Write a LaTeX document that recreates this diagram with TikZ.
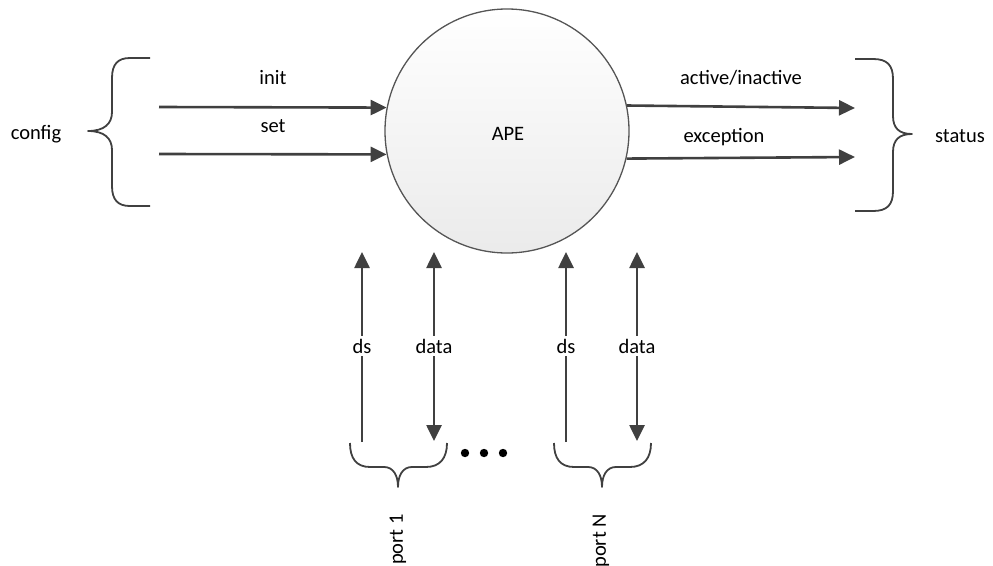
\documentclass[tikz,border=0pt]{standalone}
\usepackage{fontspec}
\setmainfont{Carlito}
\usetikzlibrary{arrows.meta}
\definecolor{linec}{HTML}{404040}
\definecolor{circc}{HTML}{555555}
\begin{document}
\begin{tikzpicture}[x=1pt,y=-1pt,
  every node/.style={font=\fontsize{20.5}{24}\selectfont, inner sep=1pt},
  lbl/.style={anchor=base},
  arr/.style={draw=linec, line width=2.6pt, -{Triangle[length=16pt,width=15pt]}},
  darr/.style={draw=linec, line width=2.6pt, {Triangle[length=16pt,width=15pt]}-{Triangle[length=16pt,width=15pt]}},
  bracec/.style={draw=linec, line width=1.8pt, line join=round},
  cutlbl/.style={anchor=base, fill=white, inner sep=3pt}]
\useasboundingbox (0,0) rectangle (993,565);

% central process
\node[circle, draw=circc, line width=1.3pt, minimum size=244pt, inner sep=0pt,
      top color=white, bottom color=black!8] (ape) at (507,131) {};
\node[lbl] (apel) at (508,140) {APE};

% config side
\coordinate (i0) at (159,107);
\coordinate (s0) at (159,154);
\draw[arr] (i0) -- (ape.169);
\draw[arr] (s0) -- (ape.-169);
\node[lbl] (initl) at (273,84) {init};
\node[lbl] (setl) at (273,132) {set};
\node[lbl] (configl) at (36,139) {config};
\draw[bracec] (150,58) -- (130,58) .. controls (118,58) and (112,64) .. (112,78)
  -- (112,112) .. controls (112,124) and (104,131) .. (88,131)
  .. controls (104,131) and (112,138) .. (112,150)
  -- (112,186) .. controls (112,200) and (118,206) .. (130,206) -- (150,206);

% status side
\coordinate (a1) at (855,108);
\coordinate (e1) at (855,157);
\draw[arr] (ape.12) -- (a1);
\draw[arr] (ape.-13) -- (e1);
\node[lbl] (activel) at (741,84) {active/inactive};
\node[lbl] (excl) at (724,142) {exception};
\node[lbl] (statusl) at (960,142) {status};
\draw[bracec] (855,59) -- (873,59) .. controls (887,59) and (893,65) .. (893,79)
  -- (893,116) .. controls (893,128) and (899,134) .. (912,134)
  .. controls (899,134) and (893,140) .. (893,152)
  -- (893,191) .. controls (893,205) and (887,211) .. (873,211) -- (855,211);

% ports
\coordinate (ds1b) at (362,442); \coordinate (ds1t) at (362,252);
\coordinate (d1b) at (434,441);  \coordinate (d1t) at (434,252);
\coordinate (dsNb) at (566,442); \coordinate (dsNt) at (566,252);
\coordinate (dNb) at (637,441);  \coordinate (dNt) at (637,252);
\draw[arr] (ds1b) -- (ds1t);
\draw[darr] (d1b) -- (d1t);
\draw[arr] (dsNb) -- (dsNt);
\draw[darr] (dNb) -- (dNt);
\node[cutlbl] (ds1l) at (362,353) {ds};
\node[cutlbl] (d1l) at (434,353) {data};
\node[cutlbl] (dsNl) at (566,353) {ds};
\node[cutlbl] (dNl) at (637,353) {data};

\foreach \dx in {0,204}{
  \begin{scope}[xshift=\dx]
  \draw[bracec] (350,443) .. controls (350,458) and (356,467) .. (370,467)
    -- (384,467) .. controls (393,467) and (398,475) .. (398,487)
    .. controls (398,475) and (403,467) .. (412,467)
    -- (426,467) .. controls (440,467) and (447,458) .. (447,443);
  \end{scope}
}
\node[rotate=90, anchor=east, inner sep=0pt] (p1l) at (398,514) {port 1};
\node[rotate=90, anchor=east, inner sep=0pt] (pNl) at (601,514) {port N};

\foreach \x [count=\k] in {465,484,503}
  \fill[black] (\x,453) circle (4.2pt) coordinate (dot\k);
\end{tikzpicture}
\end{document}
